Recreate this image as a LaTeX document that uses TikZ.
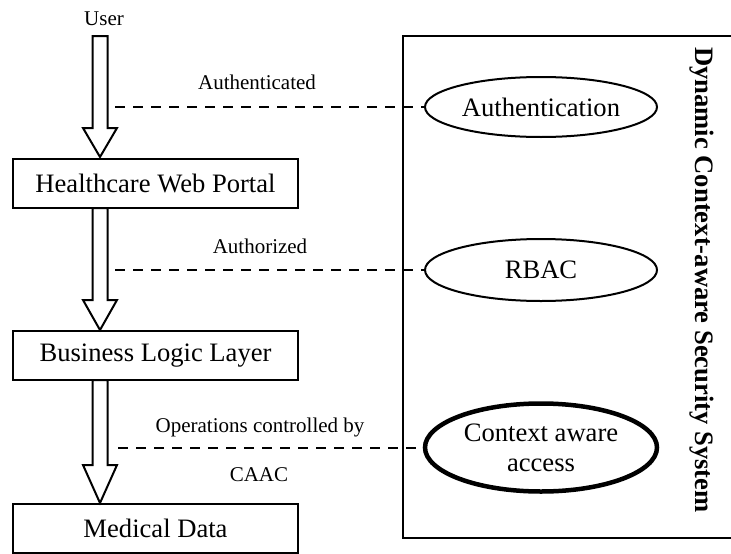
\documentclass[tikz,border=0pt]{standalone}
\usepackage{fontspec}
\setmainfont{Liberation Serif}
\usetikzlibrary{shapes.geometric,calc}
\tikzset{
  bigtext/.style={font=\fontsize{26.6}{30}\selectfont},
  smalltext/.style={font=\fontsize{21}{24}\selectfont},
  layerbox/.style={draw, line width=2pt, minimum width=285, minimum height=49, inner sep=0pt, bigtext},
  oval/.style={ellipse, draw, line width=2pt, minimum width=232, inner sep=0pt, bigtext, align=center},
  dashline/.style={line width=2pt, dash pattern=on 10pt off 8pt},
  harrowstyle/.style={draw, line width=2pt, fill=white, line join=miter},
}
\newcommand{\harrow}[3]{%
  \path[harrowstyle] ($(#1)+(-7.5,0)$) -- ($(#2)+(-7.5,-#3)$) -- ($(#2)+(-17,-#3)$) -- (#2)
    -- ($(#2)+(17,-#3)$) -- ($(#2)+(7.5,-#3)$) -- ($(#1)+(7.5,0)$) -- cycle;}
\begin{document}
\begin{tikzpicture}[x=1pt,y=-1pt]
\useasboundingbox (0,0) rectangle (731,554);
\clip (0,0) rectangle (731,554);
% system container
\node[draw, line width=2pt, minimum width=360, minimum height=502, inner sep=0pt, anchor=north west] (sys) at (402,35) {};
\node[rotate=-90, font=\fontsize{26.6}{30}\selectfont\bfseries] (title) at (702,280) {Dynamic Context-aware Security System};
% layers
\node[smalltext] (user) at (104,19) {User};
\node[layerbox] (hwp) at (155.5,183.5) {Healthcare Web Portal};
\node[layerbox] (bll) at (155.5,355.5) {Business Logic Layer};
\node[layerbox] (md) at (155.5,528.5) {Medical Data};
% arrow coordinates
\coordinate (a1s) at (100,36);
\coordinate (a1t) at (100,157);
\coordinate (a2s) at (100,208);
\coordinate (a2t) at (100,330);
\coordinate (a3s) at (100,380);
\coordinate (a3t) at (100,503);
\harrow{a1s}{a1t}{29}
\harrow{a2s}{a2t}{30}
\harrow{a3s}{a3t}{38}
% ovals
\node[oval, minimum height=60] (auth) at (541,107) {Authentication};
\node[oval, minimum height=62] (rbac) at (541,270) {RBAC};
\node[oval, minimum height=88, line width=4.5pt] (caa) at (541,447.5) {Context aware\\access};
% dashed connectors
\coordinate (d1) at (115,107);
\coordinate (d2) at (115,270);
\coordinate (d3) at (118,447.5);
\draw[dashline] (d1) -- (auth.west);
\draw[dashline] (d2) -- (rbac.west);
\draw[dashline] (d3) -- (caa.west);
% labels
\node[smalltext] (l1) at (257,82) {Authenticated};
\node[smalltext] (l2) at (260,246) {Authorized};
\node[smalltext] (l3) at (260,427) {Operations controlled by};
\node[smalltext] (l4) at (259,475) {CAAC};
\end{tikzpicture}
\end{document}
